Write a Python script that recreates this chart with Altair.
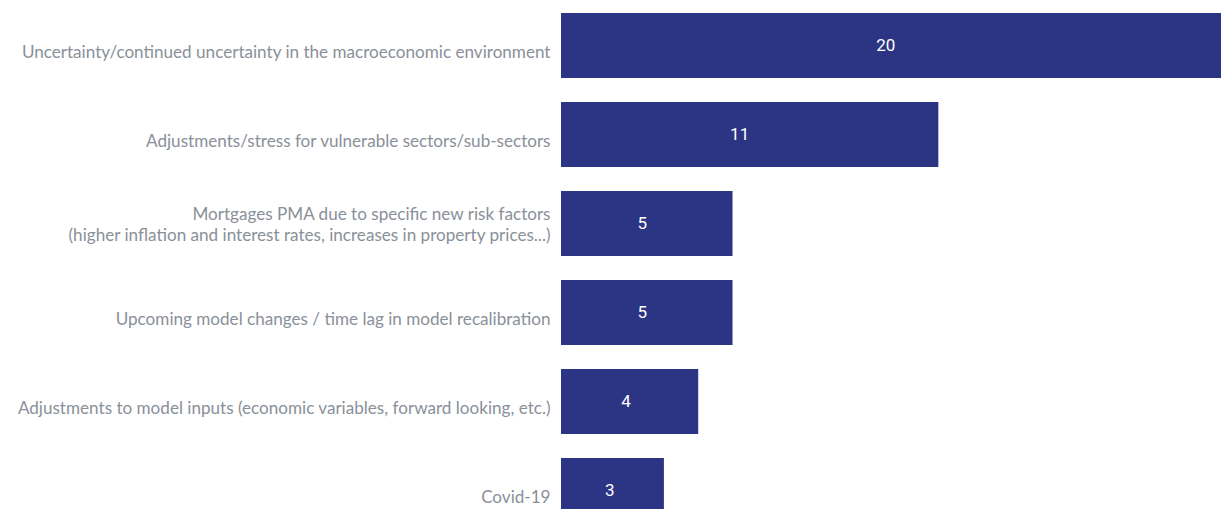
import altair as alt
import pandas as pd

categories = [
    "Uncertainty/continued uncertainty in the macroeconomic environment",
    "Adjustments/stress for vulnerable sectors/sub-sectors",
    "Mortgages PMA due to specific new risk factors|(higher inflation and interest rates, increases in property prices...)",
    "Upcoming model changes / time lag in model recalibration",
    "Adjustments to model inputs (economic variables, forward looking, etc.)",
    "Covid-19",
]
values = [20, 11, 5, 5, 4, 3]

df = pd.DataFrame({"category": categories, "value": values})

bar_color = "#2B3583"
label_color = "#8A9099"

y_enc = alt.Y(
    "category:N",
    sort=None,
    title=None,
    scale=alt.Scale(range=[5, 515], paddingInner=24 / 89, paddingOuter=0),
    axis=alt.Axis(
        ticks=False,
        domain=False,
        labelPadding=11,
        labelFont="Lato",
        labelFontSize=17.1,
        labelColor=label_color,
        labelLimit=0,
        labelLineHeight=21,
        labelExpr="split(datum.label, '|')",
        labelOffset={
            "condition": {"test": "indexof(datum.value, 'Mortgages') >= 0", "value": -9},
            "value": 7.5,
        },
    ),
)

x_scale = alt.Scale(domain=[0, 19.24], nice=False, zero=True)

bars = alt.Chart(df).mark_bar(color=bar_color, clip=True).encode(
    x=alt.X("value:Q", scale=x_scale, axis=None, title=None),
    y=y_enc,
)

labels = (
    alt.Chart(df)
    .transform_calculate(mid="datum.value * 0.4735")
    .mark_text(color="white", font="Roboto", fontSize=17, align="center", baseline="middle")
    .encode(
        x=alt.X("mid:Q", scale=x_scale, axis=None, title=None),
        y=y_enc,
        text=alt.Text("value:Q"),
    )
)

chart = (
    alt.layer(bars, labels)
    .properties(
        width=660,
        height=501,
        padding={"left": 553, "top": 0, "right": 0, "bottom": 0},
        autosize=alt.AutoSizeParams(type="none"),
        background="white",
    )
    .configure_view(strokeWidth=0)
)

chart.save("out.html", embed_options={"renderer": "svg", "actions": False})
